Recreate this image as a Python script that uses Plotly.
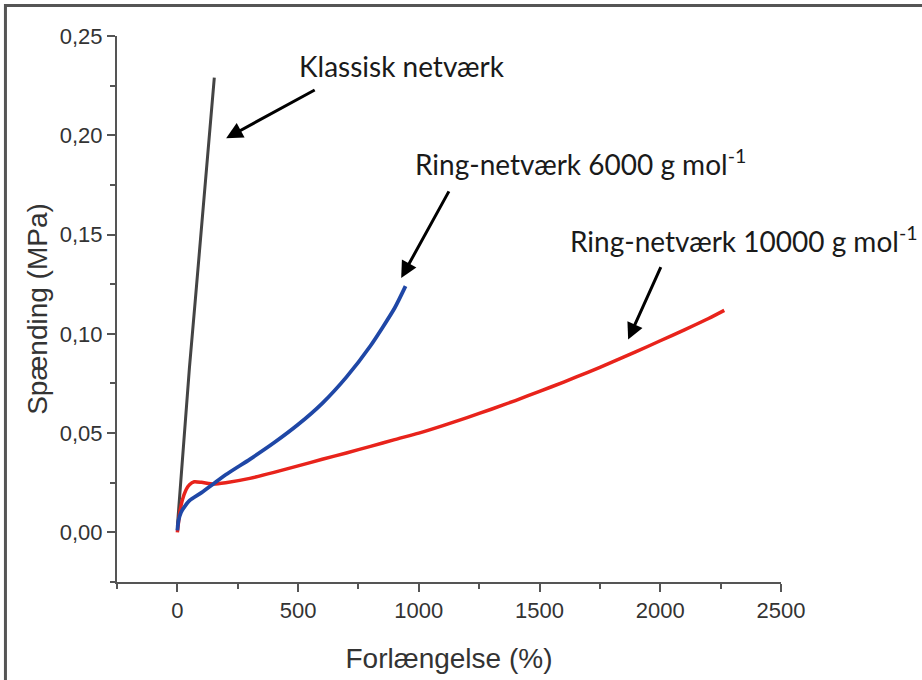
import plotly.graph_objects as go

# Data
klassisk_x = [0, 10, 25, 50, 75, 100, 125, 153]
klassisk_y = [0.003, 0.020, 0.045, 0.083, 0.118, 0.155, 0.190, 0.229]

ring6000_x = [0, 5, 15, 30, 50, 100, 150, 200, 300, 400, 500, 600, 700, 800, 900, 945]
ring6000_y = [0.001, 0.006, 0.010, 0.013, 0.016, 0.020, 0.0245, 0.029, 0.0368, 0.0451,
              0.0543, 0.0650, 0.0782, 0.0940, 0.1130, 0.1240]

ring10000_x = [0, 10, 20, 36, 50, 70, 100, 150, 200, 300, 400, 500, 600, 700, 800, 900,
               1000, 1100, 1200, 1300, 1400, 1500, 1600, 1700, 1800, 1900, 2000, 2100,
               2200, 2265]
ring10000_y = [0.000, 0.010, 0.016, 0.0215, 0.024, 0.0255, 0.0252, 0.0243, 0.0250, 0.0272,
               0.0302, 0.0335, 0.0368, 0.0400, 0.0433, 0.0467, 0.0500, 0.0538, 0.0578, 0.0620,
               0.0664, 0.0710, 0.0757, 0.0806, 0.0857, 0.0910, 0.0965, 0.1020, 0.1077, 0.1118]

x_ticks = [0, 500, 1000, 1500, 2000, 2500]
x_ticklabels = ["0", "500", "1000", "1500", "2000", "2500"]
y_ticks = [0.00, 0.05, 0.10, 0.15, 0.20, 0.25]
y_ticklabels = ["0,00", "0,05", "0,10", "0,15", "0,20", "0,25"]

labels = ["Klassisk netværk", "Ring-netværk 6000 g mol<sup>-1</sup>",
          "Ring-netværk 10000 g mol<sup>-1</sup>"]

fig = go.Figure()
fig.add_trace(go.Scatter(x=klassisk_x, y=klassisk_y, mode="lines",
                         line=dict(color="#444444", width=3), showlegend=False))
fig.add_trace(go.Scatter(x=ring10000_x, y=ring10000_y, mode="lines",
                         line=dict(color="#e8231b", width=3.5, shape="spline", smoothing=0.6),
                         showlegend=False))
fig.add_trace(go.Scatter(x=ring6000_x, y=ring6000_y, mode="lines",
                         line=dict(color="#1f47a6", width=3.8, shape="spline", smoothing=0.6),
                         showlegend=False))

tick_font = dict(family="Liberation Sans, Arial", size=22, color="#333333")
title_font = dict(family="Liberation Sans, Arial", size=28, color="#333333")
axis_common = dict(showline=True, linecolor="#555555", linewidth=2, ticks="outside",
                   ticklen=8, tickwidth=2, tickcolor="#555555", showgrid=False,
                   zeroline=False, tickfont=tick_font)

fig.update_xaxes(range=[-250, 2500], tickvals=x_ticks, ticktext=x_ticklabels,
                 minor=dict(dtick=250, ticks="outside", ticklen=5, tickwidth=2, tickcolor="#555555"),
                 title=dict(text="Forlængelse (%)", standoff=26, font=title_font),
                 **axis_common)
fig.update_yaxes(range=[-0.025, 0.25], tickvals=y_ticks, ticktext=y_ticklabels,
                 minor=dict(dtick=0.025, ticks="outside", ticklen=5, tickwidth=2, tickcolor="#555555"),
                 title=dict(text="Spænding (MPa)", standoff=4, font=title_font),
                 **axis_common)

afont = dict(family="Lato, Open Sans", size=28, color="#1a1a1a")
# Text labels
fig.add_annotation(x=497, y=0.2349, text=labels[0], showarrow=False, xanchor="left",
                   yanchor="middle", font=afont)
fig.add_annotation(x=974, y=0.1861, text=labels[1], showarrow=False, xanchor="left",
                   yanchor="middle", font=afont)
fig.add_annotation(x=1617, y=0.1474, text=labels[2], showarrow=False, xanchor="left",
                   yanchor="middle", font=afont)
# Arrows
arrow = dict(showarrow=True, text="", arrowhead=2, arrowsize=1.1, arrowwidth=3,
             arrowcolor="#000000", axref="x", ayref="y")
fig.add_annotation(x=202, y=0.1985, ax=575, ay=0.2232, **arrow)
fig.add_annotation(x=927, y=0.1281, ax=1128, ay=0.1725, **arrow)
fig.add_annotation(x=1867, y=0.0971, ax=2005, ay=0.1343, **arrow)

# outer frame (top and left edges visible)
fig.add_shape(type="rect", xref="paper", yref="paper", x0=-0.168, x1=1.4, y0=-0.4, y1=1.056,
              line=dict(color="#555555", width=3))

fig.update_layout(width=922, height=680, margin=dict(l=117, r=141, t=36, b=98),
                  plot_bgcolor="white", paper_bgcolor="white")

fig.write_html("out.html", config={"displayModeBar": False},
               post_script="document.body.style.margin='0px';")
